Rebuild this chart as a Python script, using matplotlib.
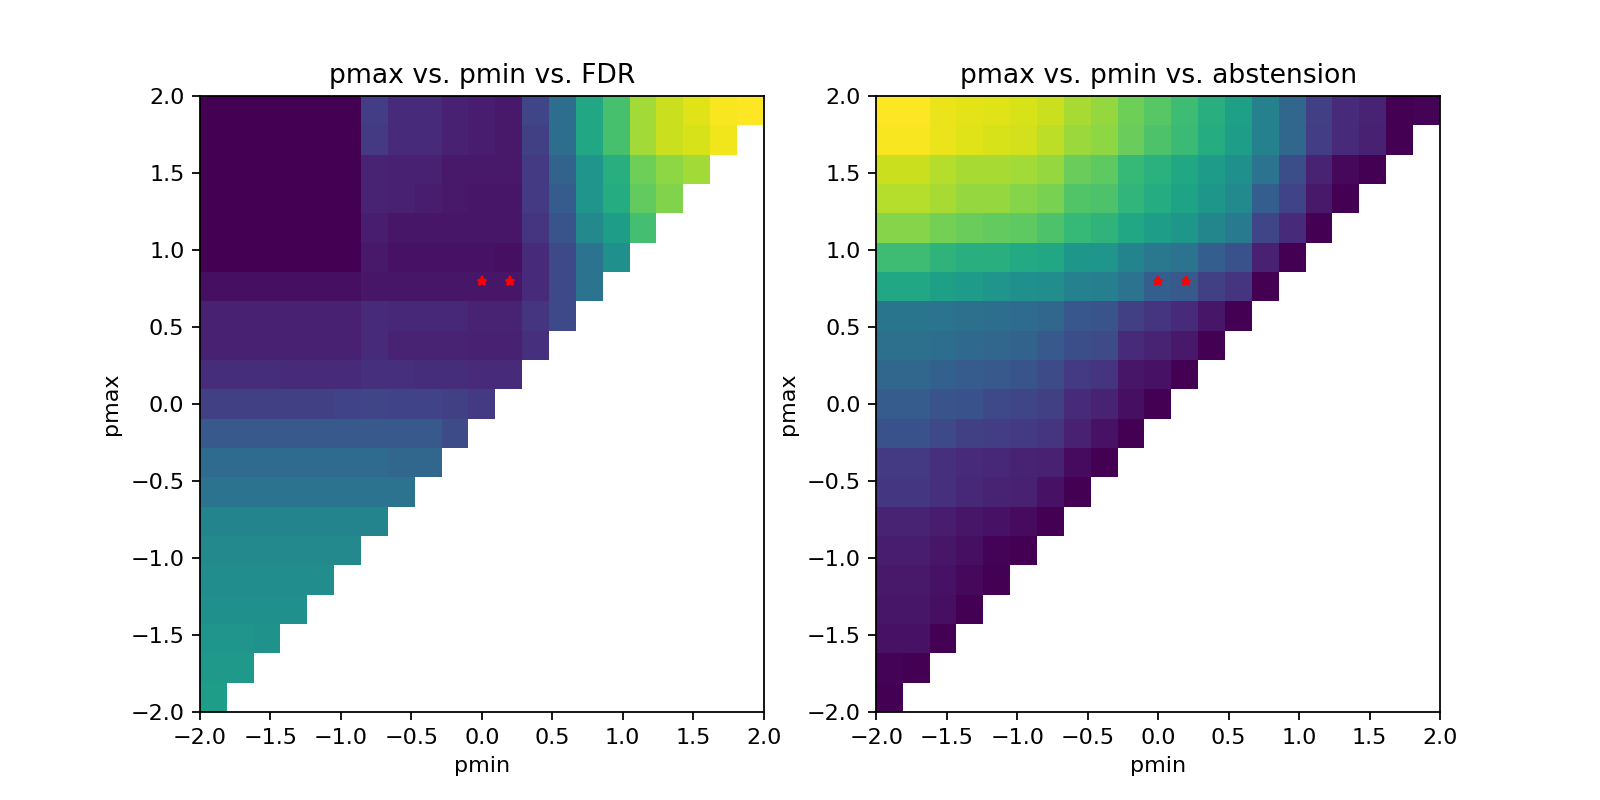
import numpy as np
import matplotlib
matplotlib.use("Agg")
import matplotlib.pyplot as plt

# grid of thresholds (21 steps from -2 to 2)
pmin = np.linspace(-2, 2, 21)
pmax = np.linspace(-2, 2, 21)

# chosen thresholds marked with stars
star_pmin = [0.0, 0.2]
star_pmax = [0.8, 0.8]

# FDR, one list per pmax row (bottom row first), only cells with pmin <= pmax
fdr_rows = [
    [0.56],
    [0.54, 0.54],
    [0.52, 0.52, 0.51],
    [0.50, 0.50, 0.50, 0.50],
    [0.49, 0.49, 0.49, 0.49, 0.49],
    [0.47, 0.47, 0.47, 0.47, 0.47, 0.47],
    [0.45, 0.45, 0.45, 0.45, 0.45, 0.45, 0.45],
    [0.38, 0.38, 0.38, 0.38, 0.38, 0.38, 0.38, 0.38],
    [0.35, 0.35, 0.35, 0.35, 0.35, 0.35, 0.35, 0.33, 0.33],
    [0.28, 0.28, 0.28, 0.28, 0.28, 0.28, 0.28, 0.28, 0.28, 0.23],
    [0.19, 0.19, 0.19, 0.19, 0.19, 0.20, 0.21, 0.20, 0.20, 0.19, 0.17],
    [0.13, 0.13, 0.13, 0.12, 0.12, 0.12, 0.14, 0.14, 0.13, 0.13, 0.12, 0.12],
    [0.09, 0.09, 0.09, 0.09, 0.09, 0.09, 0.12, 0.10, 0.10, 0.10, 0.09, 0.09, 0.14],
    [0.09, 0.09, 0.09, 0.09, 0.09, 0.09, 0.12, 0.11, 0.11, 0.11, 0.10, 0.10, 0.15, 0.22],
    [0.04, 0.04, 0.04, 0.04, 0.04, 0.04, 0.06, 0.06, 0.06, 0.06, 0.06, 0.06, 0.12, 0.22, 0.38],
    [0.0, 0.0, 0.0, 0.0, 0.0, 0.0, 0.07, 0.05, 0.05, 0.05, 0.05, 0.04, 0.12, 0.22, 0.38, 0.50],
    [0.0, 0.0, 0.0, 0.0, 0.0, 0.0, 0.08, 0.06, 0.06, 0.06, 0.06, 0.06, 0.15, 0.26, 0.47, 0.56, 0.70],
    [0.0, 0.0, 0.0, 0.0, 0.0, 0.0, 0.10, 0.09, 0.08, 0.07, 0.06, 0.06, 0.17, 0.29, 0.52, 0.62, 0.76, 0.81],
    [0.0, 0.0, 0.0, 0.0, 0.0, 0.0, 0.10, 0.09, 0.09, 0.07, 0.07, 0.07, 0.17, 0.32, 0.52, 0.63, 0.78, 0.83, 0.86],
    [0.0, 0.0, 0.0, 0.0, 0.0, 0.0, 0.17, 0.12, 0.12, 0.09, 0.08, 0.07, 0.19, 0.36, 0.60, 0.71, 0.86, 0.92, 0.94, 0.98],
    [0.0, 0.0, 0.0, 0.0, 0.0, 0.0, 0.18, 0.12, 0.12, 0.09, 0.08, 0.07, 0.21, 0.36, 0.60, 0.71, 0.86, 0.92, 0.95, 0.99, 1.0],
]

# abstension, same layout
abst_rows = [
    [0.0],
    [0.01, 0.0],
    [0.05, 0.05, 0.0],
    [0.06, 0.06, 0.04, 0.0],
    [0.07, 0.07, 0.05, 0.02, 0.0],
    [0.08, 0.08, 0.06, 0.04, 0.01, 0.0],
    [0.10, 0.10, 0.08, 0.06, 0.05, 0.03, 0.0],
    [0.16, 0.16, 0.14, 0.11, 0.10, 0.09, 0.05, 0.0],
    [0.17, 0.17, 0.14, 0.12, 0.11, 0.10, 0.09, 0.03, 0.0],
    [0.25, 0.25, 0.22, 0.19, 0.18, 0.17, 0.15, 0.09, 0.05, 0.0],
    [0.29, 0.29, 0.26, 0.25, 0.22, 0.21, 0.19, 0.12, 0.10, 0.04, 0.0],
    [0.33, 0.33, 0.31, 0.29, 0.28, 0.26, 0.23, 0.17, 0.15, 0.06, 0.05, 0.0],
    [0.37, 0.37, 0.36, 0.34, 0.33, 0.32, 0.28, 0.24, 0.23, 0.12, 0.10, 0.07, 0.0],
    [0.39, 0.39, 0.38, 0.37, 0.36, 0.35, 0.33, 0.27, 0.26, 0.19, 0.15, 0.12, 0.06, 0.0],
    [0.60, 0.60, 0.57, 0.55, 0.52, 0.50, 0.49, 0.44, 0.43, 0.38, 0.30, 0.28, 0.19, 0.15, 0.0],
    [0.69, 0.69, 0.65, 0.63, 0.63, 0.61, 0.60, 0.53, 0.52, 0.45, 0.40, 0.38, 0.30, 0.25, 0.09, 0.0],
    [0.82, 0.82, 0.79, 0.77, 0.76, 0.75, 0.72, 0.67, 0.65, 0.60, 0.56, 0.53, 0.46, 0.41, 0.21, 0.12, 0.0],
    [0.89, 0.89, 0.87, 0.84, 0.84, 0.82, 0.80, 0.73, 0.72, 0.66, 0.62, 0.58, 0.53, 0.48, 0.30, 0.20, 0.07, 0.0],
    [0.92, 0.92, 0.89, 0.87, 0.87, 0.86, 0.84, 0.77, 0.75, 0.67, 0.64, 0.60, 0.55, 0.50, 0.38, 0.24, 0.10, 0.02, 0.0],
    [0.99, 0.99, 0.97, 0.95, 0.94, 0.93, 0.90, 0.85, 0.83, 0.77, 0.72, 0.68, 0.62, 0.56, 0.44, 0.33, 0.18, 0.12, 0.09, 0.0],
    [1.0, 1.0, 0.97, 0.96, 0.95, 0.94, 0.92, 0.87, 0.84, 0.78, 0.74, 0.69, 0.63, 0.57, 0.44, 0.33, 0.19, 0.12, 0.10, 0.0, 0.01],
]


def to_grid(rows):
    #pad each row with NaN where pmin > pmax (left white)
    grid = np.full((len(pmax), len(pmin)), np.nan)
    for i, r in enumerate(rows):
        grid[i, :len(r)] = r
    return grid


# 10x5 inches at 160 dpi -> 1600x800, text scaled like the reference
fig, axes = plt.subplots(1, 2, figsize=(10, 5), dpi=160)
panels = [(fdr_rows, "pmax vs. pmin vs. FDR"), (abst_rows, "pmax vs. pmin vs. abstension")]

for ax, (rows, title) in zip(axes, panels):
    ax.imshow(to_grid(rows), cmap="viridis", origin="lower", aspect="auto",
              interpolation="nearest", extent=[pmin[0], pmin[-1], pmax[0], pmax[-1]])
    ax.plot(star_pmin, star_pmax, "r*", markersize=4.2)
    ax.set_xlim(-2, 2)
    ax.set_ylim(-2, 2)
    ax.set_title(title)
    ax.set_xlabel("pmin")
    ax.set_ylabel("pmax")

plt.savefig("out.png", dpi=160)
plt.close()
